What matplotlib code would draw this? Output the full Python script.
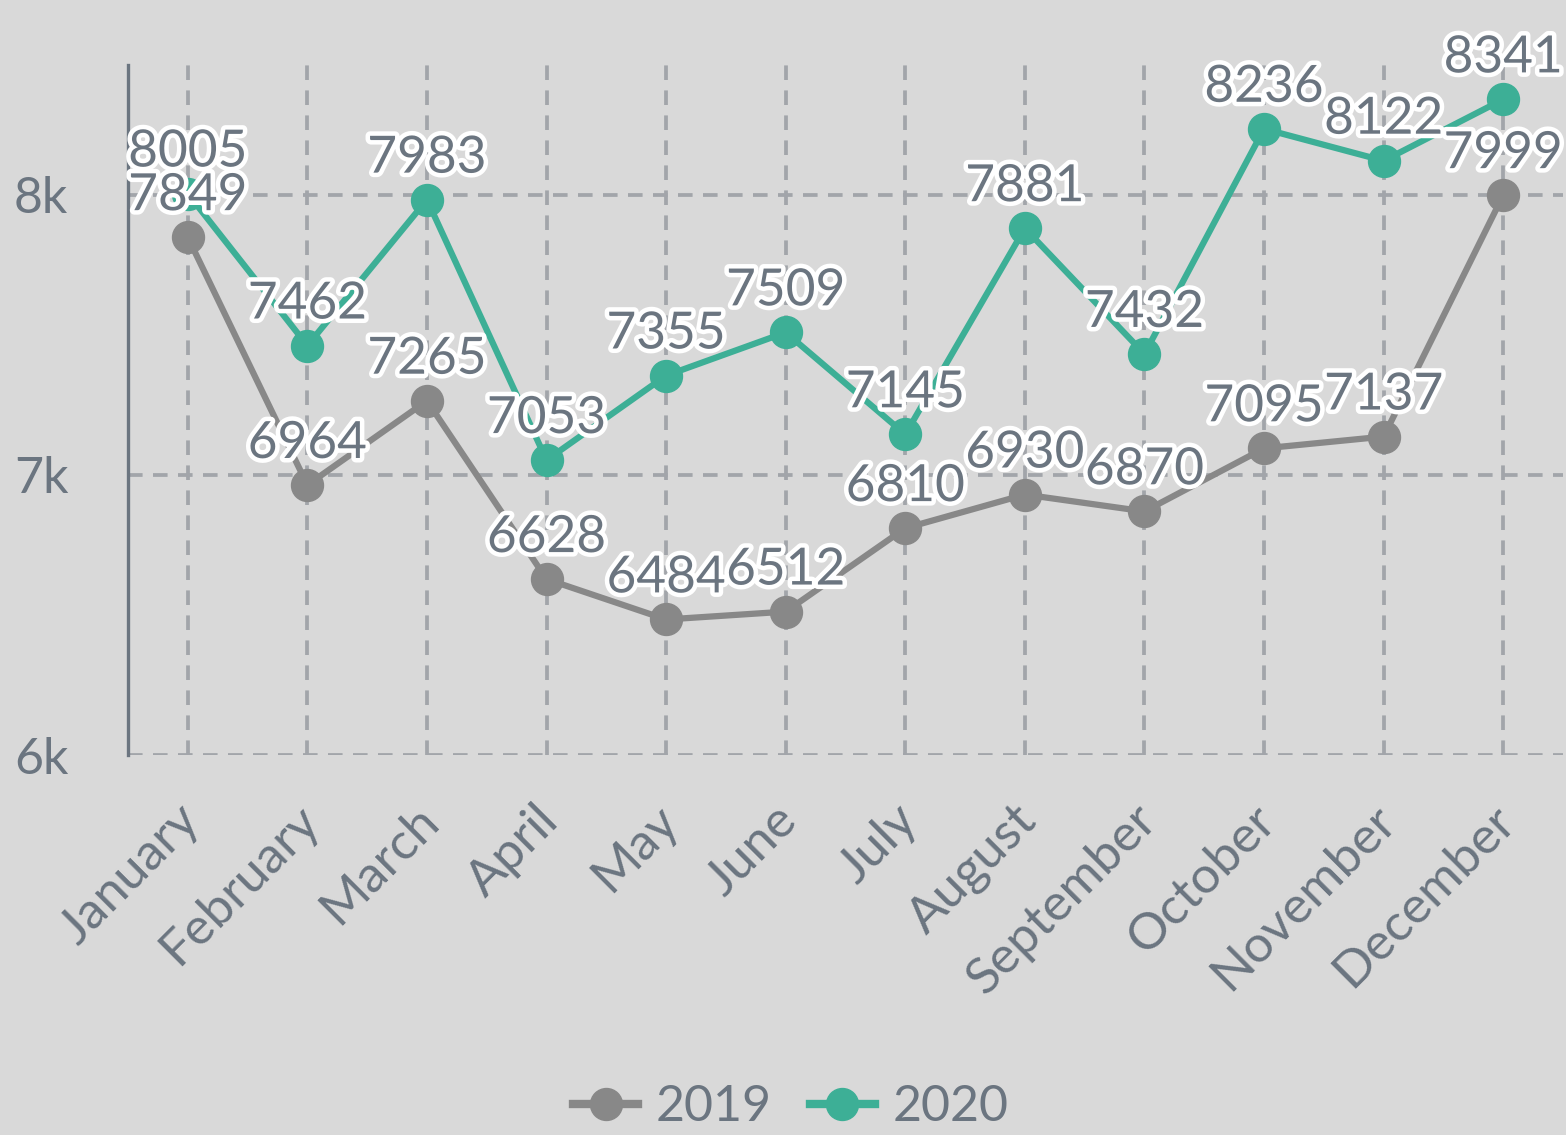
import matplotlib
matplotlib.use("Agg")
import matplotlib.pyplot as plt
import matplotlib.patheffects as pe
import matplotlib.transforms as mtransforms
from matplotlib.lines import Line2D

months = ["January", "February", "March", "April", "May", "June", "July",
          "August", "September", "October", "November", "December"]
sales_2019 = [7849, 6964, 7265, 6628, 6484, 6512, 6810, 6930, 6870, 7095, 7137, 7999]
sales_2020 = [8005, 7462, 7983, 7053, 7355, 7509, 7145, 7881, 7432, 8236, 8122, 8341]
y_ticks = [6000, 7000, 8000]
y_tick_labels = ["6k", "7k", "8k"]

BG = "#d9d9d9"
TXT = "#6b7580"
GRID = "#a2a5aa"
C2019 = "#888888"
C2020 = "#3daf96"

plt.rcParams['font.family'] = ['Lato', 'DejaVu Sans']
plt.rcParams['lines.scale_dashes'] = False

fig = plt.figure(figsize=(15.66, 11.35), dpi=100, facecolor=BG)
ax = fig.add_axes([128/1566, 1-755/1135, (1563-128)/1566, (755-65)/1135])
ax.set_facecolor(BG)

x = list(range(len(months)))
ax.set_xlim(-0.5, 11.5)
ax.set_ylim(6000, 8464)

ax.grid(True, color=GRID, linewidth=2.7, linestyle=(0, (10.5, 7.5)), zorder=0)
ax.set_axisbelow(True)

for s in ["top", "right", "bottom"]:
    ax.spines[s].set_visible(False)
ax.spines["left"].set_color(TXT)
ax.spines["left"].set_linewidth(2.4)

ax.plot(x, sales_2019, color=C2019, lw=4.5, marker="o", ms=23, zorder=3, clip_on=False)
ax.plot(x, sales_2020, color=C2020, lw=4.5, marker="o", ms=23, zorder=4, clip_on=False)

stroke = [pe.withStroke(linewidth=6.5, foreground="white")]
for series in (sales_2019, sales_2020):
    for xi, v in zip(x, series):
        ax.annotate(f"{v}", (xi, v), xytext=(0, 13), textcoords="offset points",
                    ha="center", va="bottom", fontsize=37, color=TXT,
                    path_effects=stroke, zorder=10, annotation_clip=False)

ax.set_yticks(y_ticks)
ax.set_yticklabels(y_tick_labels)
ax.set_xticks(x)
ax.set_xticklabels(months, rotation=45, ha="right", rotation_mode="anchor")
ax.tick_params(axis="y", length=0, pad=43, labelsize=36, labelcolor=TXT)
ax.tick_params(axis="x", length=0, pad=30, labelsize=37, labelcolor=TXT)
shift = mtransforms.ScaledTranslation(-12/100, 0, fig.dpi_scale_trans)
for lab in ax.get_xticklabels():
    lab.set_transform(lab.get_transform() + shift)

handles = [Line2D([0], [0], color=C2019, lw=6, marker="o", ms=23),
           Line2D([0], [0], color=C2020, lw=6, marker="o", ms=23)]
fig.legend(handles, ["2019", "2020"], loc="center", bbox_to_anchor=(0.505, 1-1107/1135),
           ncol=2, frameon=False, fontsize=36, labelcolor=TXT, handlelength=1.3,
           handletextpad=0.35, columnspacing=0.76)

fig.savefig("out.png", dpi=100, facecolor=BG)
